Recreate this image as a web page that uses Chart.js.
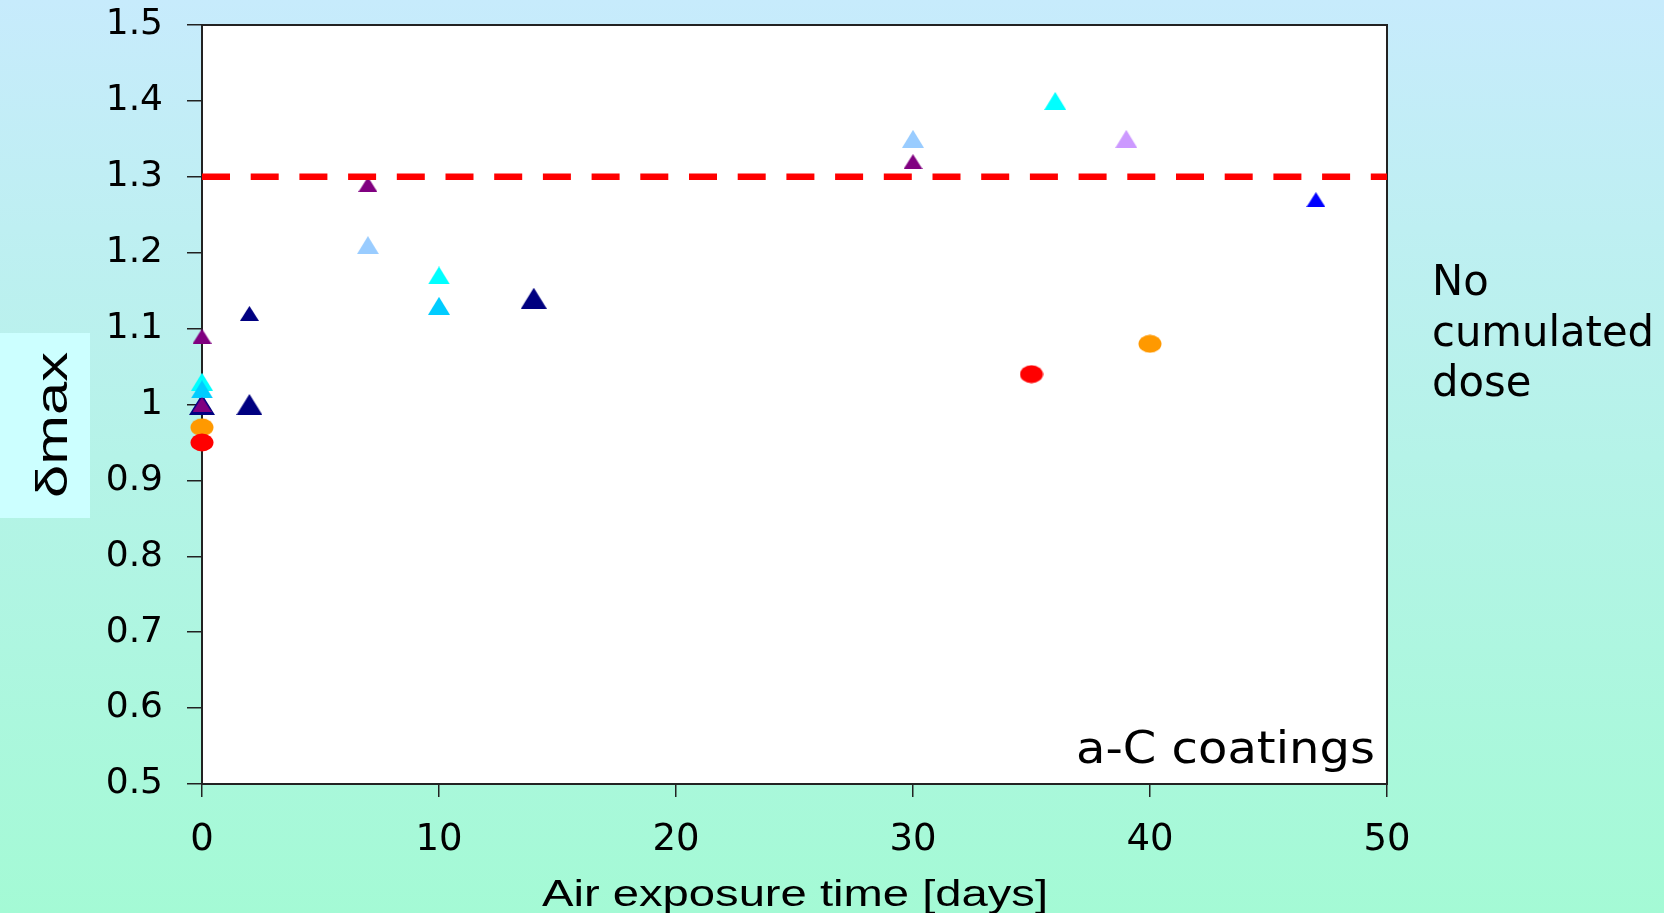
<!DOCTYPE html>
<html lang="en">
<head>
  <meta charset="UTF-8" />
  <title>δmax vs air exposure time</title>
  <style>
    html, body {
      margin: 0;
      padding: 0;
      background: #b4f4e6;
    }
    canvas {
      display: block;
    }
  </style>
</head>
<body>
  <canvas id="grafico" width="1664" height="913"></canvas>

  <script src="https://cdn.jsdelivr.net/npm/chart.js"></script>
  <script>
    // ticks
    const xTicks = [0, 10, 20, 30, 40, 50];
    const yTicks = [0.5, 0.6, 0.7, 0.8, 0.9, 1, 1.1, 1.2, 1.3, 1.4, 1.5];

    // series (days, δmax)
    const redX = [0, 35];
    const redY = [0.95, 1.04];
    const orangeX = [0, 40];
    const orangeY = [0.97, 1.08];
    const purpleX = [0, 0, 7, 30];
    const purpleY = [1.09, 1.0, 1.29, 1.32];
    const skyX = [0, 10];
    const skyY = [1.02, 1.13];
    const navyBigX = [0, 2, 14];
    const navyBigY = [1.0, 1.0, 1.14];
    const cyanX = [0, 10, 36];
    const cyanY = [1.03, 1.17, 1.40];
    const lightBlueX = [7, 30];
    const lightBlueY = [1.21, 1.35];
    const lavenderX = [39];
    const lavenderY = [1.35];
    const blueX = [47];
    const blueY = [1.27];
    const navySmallX = [2];
    const navySmallY = [1.12];

    const limite = 1.3;

    function puntos(xs, ys) {
      return xs.map((x, i) => ({ x: x, y: ys[i] }));
    }

    function triangulo(color, w, h) {
      const c = document.createElement("canvas");
      c.width = w;
      c.height = h;
      const ctx = c.getContext("2d");
      ctx.fillStyle = color;
      ctx.beginPath();
      ctx.moveTo(w / 2, 0);
      ctx.lineTo(w, h);
      ctx.lineTo(0, h);
      ctx.closePath();
      ctx.fill();
      return c;
    }

    function elipse(color, w, h) {
      const c = document.createElement("canvas");
      c.width = w;
      c.height = h;
      const ctx = c.getContext("2d");
      ctx.fillStyle = color;
      ctx.beginPath();
      ctx.ellipse(w / 2, h / 2, w / 2 - 0.5, h / 2 - 0.5, 0, 0, 2 * Math.PI);
      ctx.fill();
      return c;
    }

    function serie(xs, ys, marca) {
      return {
        type: "scatter",
        data: puntos(xs, ys),
        pointStyle: marca,
        pointRadius: 12,
        pointHoverRadius: 12,
        clip: false
      };
    }

    function textoEstirado(ctx, texto, x, y, ancho, align) {
      ctx.save();
      ctx.translate(x, y);
      ctx.scale(ancho / ctx.measureText(texto).width, 1);
      ctx.textAlign = align;
      ctx.fillText(texto, 0, 0);
      ctx.restore();
    }

    const decorado = {
      id: "decorado",
      beforeDraw(chart) {
        const { ctx, width, height, chartArea: a } = chart;
        const g = ctx.createLinearGradient(0, 0, 0, height);
        g.addColorStop(0, "#c7ebfc");
        g.addColorStop(0.5, "#b5f3e8");
        g.addColorStop(1, "#a4fad5");
        ctx.save();
        ctx.fillStyle = g;
        ctx.fillRect(0, 0, width, height);
        ctx.fillStyle = "#fff";
        ctx.fillRect(a.left, a.top, a.right - a.left, a.bottom - a.top);
        // caja del titulo Y
        ctx.fillStyle = "#ccffff";
        ctx.fillRect(0, 333, 90, 185);
        ctx.restore();
      },
      beforeDatasetsDraw(chart) {
        const { ctx, chartArea: a } = chart;
        ctx.save();
        ctx.strokeStyle = "#222";
        ctx.lineWidth = 2;
        ctx.strokeRect(a.left, a.top, a.right - a.left, a.bottom - a.top);
        ctx.restore();
      },
      afterDraw(chart) {
        const { ctx } = chart;
        ctx.save();
        ctx.fillStyle = "#000";
        ctx.textBaseline = "alphabetic";

        ctx.font = "44px 'DejaVu Sans'";
        textoEstirado(ctx, "a-C coatings", 1076, 763, 299, "left");

        ctx.font = "43px 'DejaVu Sans'";
        const sx = 222 / ctx.measureText("cumulated").width;
        ["No", "cumulated", "dose"].forEach((linea, i) => {
          ctx.save();
          ctx.translate(1432, 295 + i * 50.5);
          ctx.scale(sx, 1);
          ctx.fillText(linea, 0, 0);
          ctx.restore();
        });

        ctx.font = "37px 'Liberation Sans'";
        textoEstirado(ctx, "Air exposure time [days]", 795, 906, 506, "center");

        ctx.font = "45px 'Liberation Sans'";
        ctx.save();
        ctx.translate(67, 425);
        ctx.rotate(-Math.PI / 2);
        textoEstirado(ctx, "δmax", 0, 0, 146, "center");
        ctx.restore();

        ctx.restore();
      }
    };

    new Chart(document.getElementById("grafico"), {
      type: "scatter",
      data: {
        datasets: [
          {
            type: "line",
            data: [{ x: 0, y: limite }, { x: 50, y: limite }],
            borderColor: "#ff0000",
            borderWidth: 6.5,
            borderDash: [28, 20.7],
            pointRadius: 0,
            showLine: true,
            fill: false
          },
          serie(redX, redY, elipse("#ff0000", 24, 19)),
          serie(orangeX, orangeY, elipse("#ff9900", 24, 19)),
          serie(purpleX, purpleY, triangulo("#800080", 19, 15)),
          serie(skyX, skyY, triangulo("#00ccff", 22, 18)),
          serie(navyBigX, navyBigY, triangulo("#000080", 26, 21)),
          serie(cyanX, cyanY, triangulo("#00ffff", 22, 18)),
          serie(lightBlueX, lightBlueY, triangulo("#99ccff", 22, 18)),
          serie(lavenderX, lavenderY, triangulo("#cc99ff", 22, 18)),
          serie(blueX, blueY, triangulo("#0000ff", 19, 15)),
          serie(navySmallX, navySmallY, triangulo("#000080", 19, 15))
        ]
      },
      options: {
        responsive: false,
        animation: false,
        layout: { padding: { left: 0, top: 25, right: 277, bottom: 0 } },
        plugins: {
          legend: { display: false },
          tooltip: { enabled: false }
        },
        scales: {
          x: {
            type: "linear",
            min: 0,
            max: 50,
            afterBuildTicks: s => { s.ticks = xTicks.map(v => ({ value: v })); },
            afterFit: s => { s.height = 129; s.paddingLeft = 0; s.paddingRight = 0; },
            border: { display: false },
            grid: {
              drawOnChartArea: false,
              drawTicks: true,
              tickLength: 13,
              color: "#222",
              lineWidth: 1.5
            },
            ticks: {
              autoSkip: false,
              maxRotation: 0,
              padding: 21,
              color: "#000",
              font: { family: "'DejaVu Sans'", size: 37 },
              callback: v => String(v)
            }
          },
          y: {
            type: "linear",
            min: 0.5,
            max: 1.5,
            afterBuildTicks: s => { s.ticks = yTicks.map(v => ({ value: v })); },
            afterFit: s => { s.width = 202; s.paddingTop = 0; s.paddingBottom = 0; },
            border: { display: false },
            grid: {
              drawOnChartArea: false,
              drawTicks: true,
              tickLength: 15,
              color: "#222",
              lineWidth: 1.5
            },
            ticks: {
              autoSkip: false,
              padding: 24,
              color: "#000",
              font: { family: "'DejaVu Sans'", size: 36 },
              callback: v => String(v)
            }
          }
        }
      },
      plugins: [decorado]
    });
  </script>
</body>
</html>
